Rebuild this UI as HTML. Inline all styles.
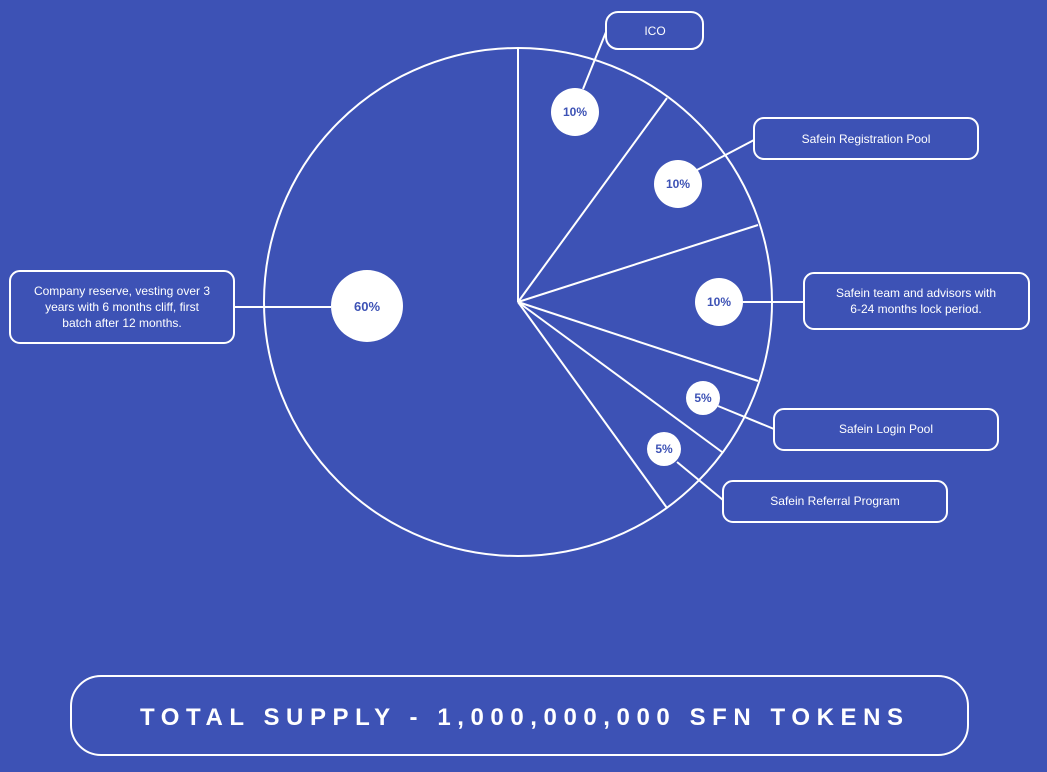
<!DOCTYPE html>
<html><head><meta charset="utf-8"><style>
html,body{margin:0;padding:0;background:#3d52b5;}
svg{display:block;}
text{font-family:"Liberation Sans",sans-serif;}
</style></head><body>
<svg width="1047" height="772" viewBox="0 0 1047 772">
<rect width="1047" height="772" fill="#3d52b5"/>
<g stroke="#fff" stroke-width="2" fill="none">
<circle cx="518" cy="302" r="254"/>
<line x1="518" y1="302" x2="518" y2="48"/>
<line x1="518" y1="302" x2="667" y2="98"/>
<line x1="518" y1="302" x2="758" y2="225"/>
<line x1="518" y1="302" x2="758" y2="381"/>
<line x1="518" y1="302" x2="722" y2="452"/>
<line x1="518" y1="302" x2="667" y2="508"/>
<line x1="606" y1="32" x2="583" y2="89"/>
<line x1="754" y1="140" x2="697" y2="170"/>
<line x1="743" y1="302" x2="804" y2="302"/>
<line x1="718" y1="406" x2="774" y2="429"/>
<line x1="677" y1="462" x2="723" y2="500"/>
<line x1="234" y1="307" x2="331" y2="307"/>
<rect x="606" y="12" width="97" height="37" rx="12"/>
<rect x="754" y="118" width="224" height="41" rx="10"/>
<rect x="804" y="273" width="225" height="56" rx="10"/>
<rect x="774" y="409" width="224" height="41" rx="10"/>
<rect x="723" y="481" width="224" height="41" rx="10"/>
<rect x="10" y="271" width="224" height="72" rx="10"/>
<rect x="71" y="676" width="897" height="79" rx="30"/>
</g>
<g fill="#fff">
<circle cx="575" cy="112" r="24"/>
<circle cx="678" cy="184" r="24"/>
<circle cx="719" cy="302" r="24"/>
<circle cx="703" cy="398" r="17"/>
<circle cx="664" cy="449" r="17"/>
<circle cx="367" cy="306" r="36"/>
</g>
<g fill="#3d52b5" font-size="12" font-weight="bold" text-anchor="middle">
<text x="575" y="116">10%</text>
<text x="678" y="188">10%</text>
<text x="719" y="306">10%</text>
<text x="703" y="402">5%</text>
<text x="664" y="453">5%</text>
<text x="367" y="311" font-size="13">60%</text>
</g>
<g fill="#fff" font-size="12" text-anchor="middle">
<text x="655" y="35">ICO</text>
<text x="866" y="143">Safein Registration Pool</text>
<text x="916" y="297">Safein team and advisors with</text>
<text x="916" y="313">6-24 months lock period.</text>
<text x="886" y="433">Safein Login Pool</text>
<text x="835" y="505">Safein Referral Program</text>
<text x="122" y="295">Company reserve, vesting over 3</text>
<text x="122" y="311">years with 6 months cliff, first</text>
<text x="122" y="327">batch after 12 months.</text>
</g>
<text x="140" y="725" fill="#fff" font-size="24" font-weight="bold" textLength="763" lengthAdjust="spacing">TOTAL SUPPLY - 1,000,000,000 SFN TOKENS</text>
</svg>
</body></html>
